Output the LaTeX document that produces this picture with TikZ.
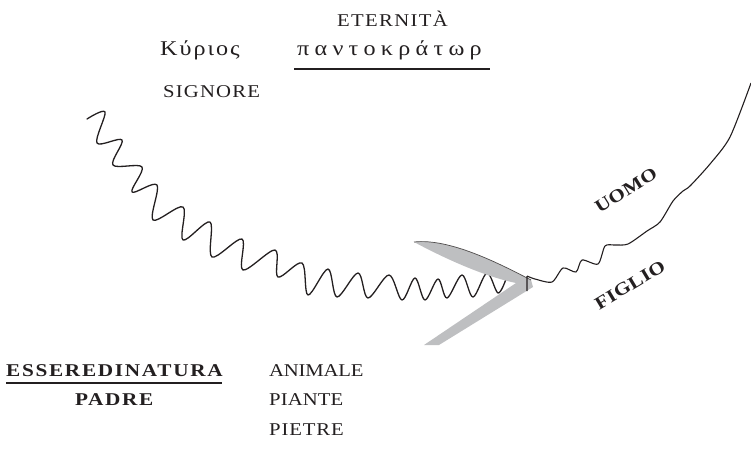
\documentclass[tikz,border=0pt]{standalone}
\usepackage{fontspec}
\setmainfont{Liberation Serif}
\definecolor{txt}{RGB}{35,31,32}
\definecolor{chev}{RGB}{190,191,193}
\newcommand{\regfnt}[1]{\fontsize{18}{20}\selectfont\addfontfeatures{FakeStretch=1.15,LetterSpace=#1}}
\newcommand{\boldfnt}[1]{\fontsize{18}{20}\selectfont\bfseries\addfontfeatures{FakeStretch=1.18,LetterSpace=#1}}
\newcommand{\grkfnt}[1]{\fontsize{21}{22}\selectfont\addfontfeatures{FakeStretch=1.15,LetterSpace=#1}}
\begin{document}
\begin{tikzpicture}[x=1pt,y=-1pt,
  lab/.style={inner sep=0pt, anchor=base west, text=txt},
  rlab/.style={inner sep=0pt, anchor=center, text=txt},
  wave/.style={line width=1.3pt, txt, line join=round, line cap=round},
  uline/.style={line width=1.1pt, txt}]
\useasboundingbox (0,0) rectangle (751,450);

% texts
\node[lab, font=\regfnt{7.5}] (etern) at (337,26.5) {ETERNITÀ};
\node[lab, font=\grkfnt{9.5}] (kyrios) at (160,55) {Κύριος};
\node[lab, font=\grkfnt{25}] (panto) at (297,55) {παντοκράτωρ};
\coordinate (pl) at (294,69);
\coordinate (pr) at (490,69);
\draw[uline] (pl) -- (pr);
\node[lab, font=\regfnt{6.5}] (sign) at (163,97) {SIGNORE};

\node[lab, font=\boldfnt{9.5}] (essere) at (6,376) {ESSEREDINATURA};
\coordinate (el) at (6,383);
\coordinate (er) at (222,383);
\draw[uline] (el) -- (er);
\node[lab, font=\boldfnt{9}] (padre) at (75,405) {PADRE};
\node[lab, font=\regfnt{-1}] (anim) at (269,376) {ANIMALE};
\node[lab, font=\regfnt{0.5}] (piant) at (269,405) {PIANTE};
\node[lab, font=\regfnt{5}] (pietr) at (269,435) {PIETRE};

\node[rlab, font=\boldfnt{2}, rotate=32] (uomo) at (626,190) {UOMO};
\node[rlab, font=\boldfnt{2}, rotate=31] (figlio) at (630,285) {FIGLIO};

% wavy line
\draw[wave] plot[smooth, tension=0.55] coordinates {
 (87,119) (105,112) (97,143) (122,140) (113,165) (142,167) (132,192)
 (157,185) (153,220) (183,207) (183,240) (210,222) (212,257)
 (242,239) (243,270) (275,250) (278,277) (302,263) (308,295)
 (328,269) (337,297) (358,273) (368,298) (389,275) (402,300)
 (415,278) (425,300) (438,279) (447,298) (462,275) (473,297)
 (487,273) (498,293) (506,279)};

% chevron
\fill[chev] (531,280)
  .. controls (500,264) and (450,238) .. (414,242)
  .. controls (440,256) and (482,276) .. (516,283)
  -- (424,345) -- (439,345) -- (533,287) -- cycle;
\draw[line width=0.7pt, txt!80] (414,242) .. controls (450,238) and (500,264) .. (531,280);

% right line
\draw[line width=1.1pt, txt, line join=round] (527,291) -- (527,276)
  plot[smooth, tension=0.45] coordinates {(527,276) (535,279) (552,282) (563,268) (576,272)
  (582,260) (598,264) (605,246) (615,245) (628,244) (647,231) (660,222)
  (673,201) (683,191) (690,186) (710,164) (730,137) (751,83)};
\end{tikzpicture}
\end{document}
